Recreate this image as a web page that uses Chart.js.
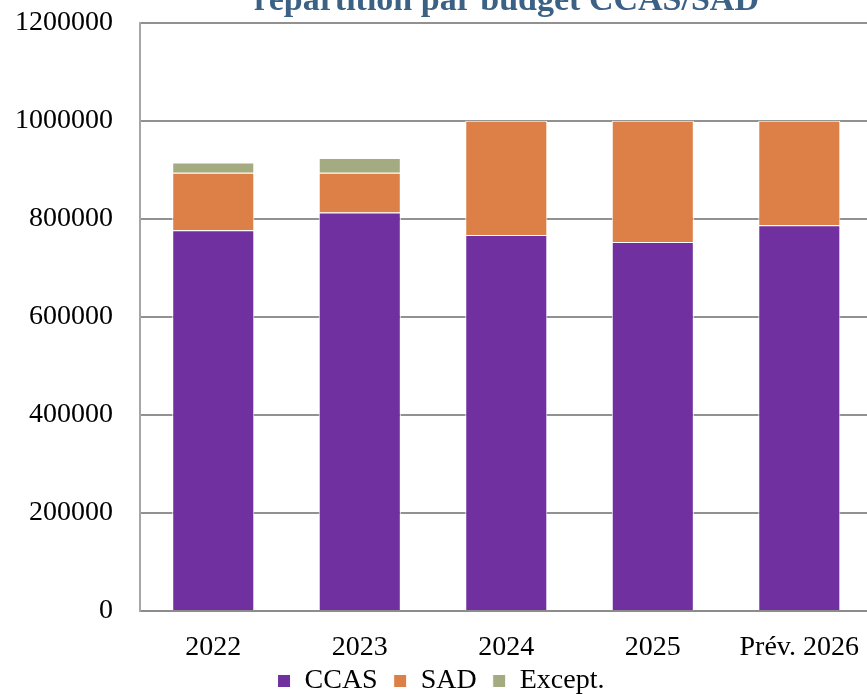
<!DOCTYPE html>
<html lang="fr">
<head>
    <meta charset="UTF-8">
    <title>Répartition par budget CCAS/SAD</title>
    <script src="https://cdn.jsdelivr.net/npm/chart.js"></script>
    <style>
        html, body {
            margin: 0;
            padding: 0;
            width: 867px;
            height: 694px;
            overflow: hidden;
            background: #fff;
        }
        #budgetChart {
            position: absolute;
            left: 0;
            top: -21px;
        }
    </style>
</head>
<body>
    <canvas id="budgetChart" width="892" height="726"></canvas>
    <script>
        const years = ['2022', '2023', '2024', '2025', 'Prév. 2026'];
        const ccas = [777000, 813000, 767000, 753000, 787000];
        const sad = [117000, 81000, 233000, 247000, 213000];
        const except = [21000, 30000, 0, 0, 0];
        const yTickValues = [0, 200000, 400000, 600000, 800000, 1000000, 1200000];

        const serif = 'Liberation Serif';

        // the x axis box is kept short so the legend sits close to the labels,
        // then its bottom is pushed down again so the labels are not clipped
        const labelRoom = {
            id: 'labelRoom',
            afterLayout: chart => {
                const x = chart.scales.x;
                x.bottom = x.top + 70;
            }
        };

        const ctx = document.getElementById('budgetChart').getContext('2d');
        const budgetChart = new Chart(ctx, {
            type: 'bar',
            data: {
                labels: years,
                datasets: [
                    { label: 'CCAS', data: ccas, backgroundColor: '#7030A0' },
                    { label: 'SAD', data: sad, backgroundColor: '#DD8047' },
                    { label: 'Except.', data: except, backgroundColor: '#A5AB81' }
                ]
            },
            plugins: [labelRoom],
            options: {
                responsive: false,
                animation: false,
                datasets: {
                    bar: {
                        borderColor: '#ffffff',
                        borderWidth: 1,
                        barPercentage: 0.56,
                        categoryPercentage: 1
                    }
                },
                layout: {
                    padding: { left: 0, right: 10, top: 0, bottom: 0 }
                },
                scales: {
                    x: {
                        stacked: true,
                        afterFit: axis => { axis.height = 40; },
                        grid: { display: false, drawTicks: false },
                        border: { color: '#8c8c8c', width: 2 },
                        ticks: {
                            color: '#000',
                            padding: 31,
                            maxRotation: 0,
                            font: { family: serif, size: 28, lineHeight: 0.4 }
                        }
                    },
                    y: {
                        stacked: true,
                        min: 0,
                        max: 1200000,
                        afterFit: axis => { axis.width = 140; },
                        afterBuildTicks: axis => {
                            axis.ticks = yTickValues.map(v => ({ value: v }));
                        },
                        grid: { color: '#919191', lineWidth: 2, drawTicks: false },
                        border: { color: '#a6a6a6', width: 2 },
                        ticks: {
                            color: '#000',
                            padding: 27,
                            font: { family: serif, size: 28 },
                            callback: v => String(v)
                        }
                    }
                },
                plugins: {
                    title: {
                        display: true,
                        text: 'répartition par budget CCAS/SAD',
                        color: '#3B6185',
                        fullSize: false,
                        padding: 0,
                        font: { family: serif, size: 34, weight: 'bold', lineHeight: 1.28 }
                    },
                    legend: {
                        position: 'bottom',
                        labels: {
                            color: '#000',
                            boxWidth: 13,
                            boxHeight: 13,
                            padding: 16,
                            font: { family: serif, size: 28 }
                        }
                    },
                    tooltip: { enabled: false }
                }
            }
        });
    </script>
</body>
</html>
